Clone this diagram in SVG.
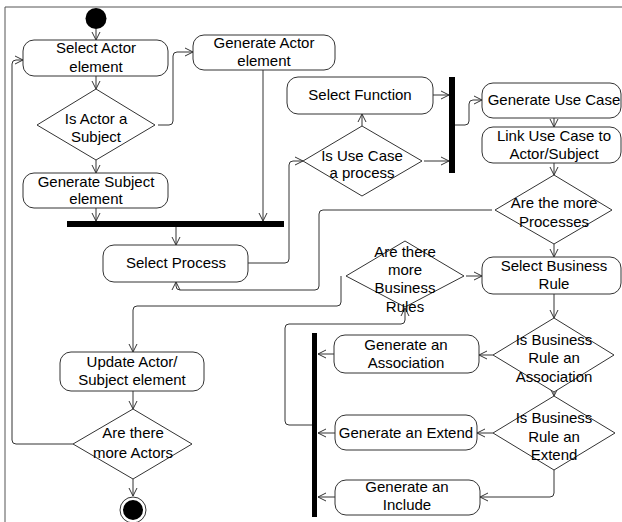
<svg xmlns="http://www.w3.org/2000/svg" width="622" height="522" viewBox="0 0 622 522">
<defs>
<marker id="arr" markerUnits="userSpaceOnUse" markerWidth="12" markerHeight="12" viewBox="0 0 12 12" refX="10" refY="6" orient="auto">
<path d="M2,2 L10,6 L2,10" fill="none" stroke="#333" stroke-width="1"/>
</marker>
<style>
.n{fill:#fff;stroke:#333;stroke-width:1}
.t{font-family:"Liberation Sans",Arial,sans-serif;font-size:15px;fill:#000;text-anchor:middle}
.c{fill:none;stroke:#333;stroke-width:1;marker-end:url(#arr)}
.bar{fill:#000}
.fr{fill:none;stroke:#555;stroke-width:1}
</style>
</defs>
<rect width="622" height="522" fill="#fff"/>
<path class="fr" d="M5,522 L5,7 L622,7"/>

<g id="connectors">
<path class="c" d="M96,29 L96,40"/>
<path class="c" d="M96,76 L96,89"/>
<path class="c" d="M96,160 L96,173"/>
<path class="c" d="M158,125 L169,125 Q173,125 173,121 L173,56 Q173,52 177,52 L193,52"/>
<path class="c" d="M96,208 L96,221"/>
<path class="c" d="M263,70 L263,221"/>
<path class="c" d="M176,227 L176,245"/>
<path class="c" d="M248,263 L285,263 Q289,263 289,259 L289,165 Q289,161 293,161 L303,161"/>
<path class="c" d="M362,126 L362,114"/>
<path class="c" d="M433,95 L449,95"/>
<path class="c" d="M424,161 L449,161"/>
<path class="c" d="M455,125 L465,125 Q469,125 469,121 L469,104 Q469,100 473,100 L482,100"/>
<path class="c" d="M554,118 L554,127"/>
<path class="c" d="M554,163 L554,175"/>
<path class="c" d="M492,210 L323,210 Q319,210 319,214 L319,286 Q319,290 315,290 L180,290 Q176,290 176,286 L176,282"/>
<path class="c" d="M554,244 L554,257"/>
<path class="c" d="M466,276 L482,276"/>
<path class="c" d="M341,276 L341,302 Q341,306 337,306 L137,306 Q133,306 133,310 L133,352"/>
<path class="c" d="M554,294 L554,318"/>
<path class="c" d="M493,355 L479,355"/>
<path class="c" d="M554,392 L554,396"/>
<path class="c" d="M493,433 L477,433"/>
<path class="c" d="M554,470 L554,493 Q554,497 550,497 L480,497"/>
<path class="c" d="M334,354 L318,354"/>
<path class="c" d="M335,433 L318,433"/>
<path class="c" d="M335,497 L318,497"/>
<path class="c" d="M312,425 L289,425 Q285,425 285,421 L285,328 Q285,324 289,324 L401,324 Q405,324 405,320 L405,308"/>
<path class="c" d="M133,391 L133,409"/>
<path class="c" d="M133,479 L133,496"/>
<path class="c" d="M73,444 L16,444 Q12,444 12,440 L12,64 Q12,60 16,60 L23,60"/>
</g>

<g id="start"><circle cx="96" cy="18.5" r="10.5" fill="#000"/></g>

<g id="selectActor"><rect class="n" x="23" y="40" width="145" height="36" rx="11"/>
<text class="t" x="96" y="53">Select Actor</text><text class="t" x="96" y="72">element</text></g>

<g id="isActorSubject"><polygon class="n" points="96,89 155,125 96,160 37,125"/>
<text class="t" x="96" y="124">Is Actor a</text><text class="t" x="96" y="142">Subject</text></g>

<g id="generateActor"><rect class="n" x="193" y="35" width="142" height="35" rx="11"/>
<text class="t" x="264" y="48">Generate Actor</text><text class="t" x="264" y="66">element</text></g>

<g id="generateSubject"><rect class="n" x="23" y="173" width="145" height="35" rx="11"/>
<text class="t" x="96" y="187">Generate Subject</text><text class="t" x="96" y="204">element</text></g>

<g id="join1"><rect class="bar" x="67" y="221" width="217" height="6"/></g>

<g id="selectProcess"><rect class="n" x="103" y="245" width="145" height="37" rx="11"/>
<text class="t" x="176" y="268">Select Process</text></g>

<g id="selectFunction"><rect class="n" x="287" y="77" width="146" height="37" rx="11"/>
<text class="t" x="360" y="100">Select Function</text></g>

<g id="isUseCaseProcess"><polygon class="n" points="362,126 422,161 362,196 303,161"/>
<text class="t" x="362" y="161">Is Use Case</text><text class="t" x="362" y="178">a process</text></g>

<g id="join2"><rect class="bar" x="449" y="77" width="6" height="96"/></g>

<g id="generateUseCase"><rect class="n" x="482" y="83" width="139" height="35" rx="11"/>
<text class="t" x="554" y="105">Generate Use Case</text></g>

<g id="linkUseCase"><rect class="n" x="482" y="127" width="139" height="36" rx="11"/>
<text class="t" x="554" y="141">Link Use Case to</text><text class="t" x="554" y="159">Actor/Subject</text></g>

<g id="moreProcesses"><polygon class="n" points="554,175 612,210 554,244 495,210"/>
<text class="t" x="554" y="208">Are the more</text><text class="t" x="554" y="227">Processes</text></g>

<g id="selectBusinessRule"><rect class="n" x="482" y="257" width="139" height="37" rx="11"/>
<text class="t" x="554" y="271">Select Business</text><text class="t" x="554" y="289">Rule</text></g>

<g id="moreBusinessRules"><polygon class="n" points="405,241 464,276 405,307 346,276"/>
<text class="t" x="405" y="257">Are there</text><text class="t" x="405" y="275">more</text><text class="t" x="405" y="293">Business</text><text class="t" x="405" y="312">Rules</text></g>

<g id="isAssociation"><polygon class="n" points="554,318 614,355 554,392 493,355"/>
<text class="t" x="554" y="345">Is Business</text><text class="t" x="554" y="363">Rule an</text><text class="t" x="554" y="382">Association</text></g>

<g id="isExtend"><polygon class="n" points="554,396 615,433 554,470 493,433"/>
<text class="t" x="554" y="423">Is Business</text><text class="t" x="554" y="442">Rule an</text><text class="t" x="554" y="460">Extend</text></g>

<g id="generateAssociation"><rect class="n" x="334" y="335" width="145" height="38" rx="11"/>
<text class="t" x="406" y="350">Generate an</text><text class="t" x="406" y="368">Association</text></g>

<g id="generateExtend"><rect class="n" x="335" y="415" width="142" height="35" rx="11"/>
<text class="t" x="406" y="438">Generate an Extend</text></g>

<g id="generateInclude"><rect class="n" x="335" y="480" width="145" height="35" rx="11"/>
<text class="t" x="407" y="492">Generate an</text><text class="t" x="407" y="510">Include</text></g>

<g id="join3"><rect class="bar" x="312" y="333" width="5" height="184"/></g>

<g id="updateActor"><rect class="n" x="60" y="352" width="144" height="39" rx="11"/>
<text class="t" x="132" y="367">Update Actor/</text><text class="t" x="132" y="385">Subject element</text></g>

<g id="moreActors"><polygon class="n" points="133,409 192,444 133,479 73,444"/>
<text class="t" x="133" y="438">Are there</text><text class="t" x="133" y="458">more Actors</text></g>

<g id="end"><circle cx="133" cy="510" r="13" fill="#fff" stroke="#333" stroke-width="1"/><circle cx="133" cy="510" r="10" fill="#000"/></g>
</svg>
